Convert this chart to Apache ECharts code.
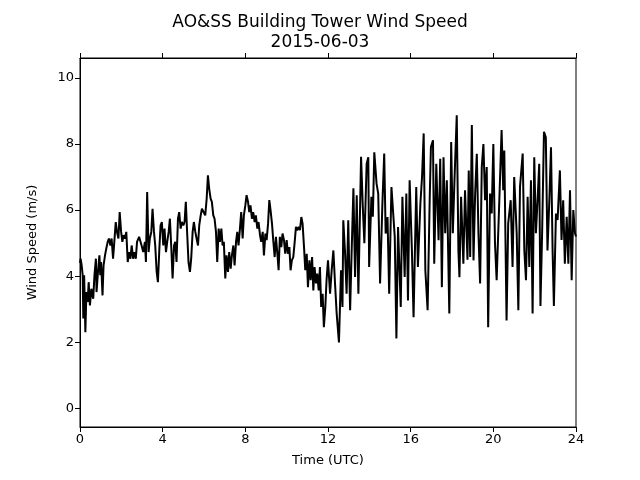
<!DOCTYPE html>
<html><head><meta charset="utf-8">
<script src="https://cdn.jsdelivr.net/npm/echarts@6/dist/echarts.min.js"></script>
<style>html,body{margin:0;padding:0;background:#fff}#c{width:640px;height:480px}</style>
</head><body><div id="c"></div>
<script>
const titleText = "AO&SS Building Tower Wind Speed";
const subText = "2015-06-03";
const xTicks = [0, 4, 8, 12, 16, 20, 24];
const yTicks = [0, 2, 4, 6, 8, 10];
const hours = [
0.0,0.03,0.08,0.13,0.16,0.2,0.26,0.31,0.37,0.42,0.48,0.55,0.64,0.7,0.77,0.8,0.87,0.94,0.98,1.02,1.09,1.14,1.21,1.27,1.34,1.4,1.47,1.53,1.6,1.66,1.73,1.79,1.86,1.92,1.99,2.05,2.11,2.18,2.24,2.31,2.37,2.44,2.5,2.57,2.63,2.7,2.76,2.86,
2.9,2.98,3.06,3.14,3.19,3.25,3.32,3.38,3.45,3.51,3.58,3.64,3.71,3.77,3.84,3.9,3.96,4.03,4.09,4.16,4.22,4.29,4.35,4.42,4.48,4.55,4.61,4.67,4.74,4.8,4.87,4.93,5.0,5.06,5.12,5.19,5.25,5.32,5.38,5.45,5.51,5.58,5.64,5.71,5.77,5.84,5.9,
5.98,6.06,6.13,6.19,6.25,6.32,6.38,6.45,6.51,6.58,6.64,6.71,6.77,6.84,6.9,6.96,7.03,7.09,7.16,7.22,7.29,7.35,7.42,7.48,7.55,7.61,7.67,7.74,7.8,7.87,7.93,8.0,8.06,8.13,8.19,8.25,8.32,8.38,8.45,8.51,8.58,8.64,8.71,8.77,8.84,
8.9,8.97,9.03,9.1,9.16,9.22,9.29,9.35,9.42,9.48,9.55,9.61,9.67,9.74,9.8,9.87,9.93,10.0,10.06,10.13,10.19,10.25,10.32,10.38,10.45,10.51,10.58,10.64,10.71,10.77,10.84,10.9,10.97,11.03,11.1,11.16,11.23,11.29,11.35,11.42,11.48,11.55,11.61,11.67,11.74,11.8,11.87,11.93,12.0,
12.1,12.18,12.26,12.34,12.42,12.53,12.63,12.7,12.74,12.82,12.9,12.98,13.07,13.15,13.23,13.31,13.39,13.47,13.6,13.68,13.76,13.87,13.95,13.99,14.1,14.17,14.24,14.35,14.43,14.52,14.63,14.72,14.79,14.88,14.96,15.07,15.15,15.23,15.31,15.39,15.52,15.6,15.71,15.79,15.87,15.95,
16.06,16.14,16.27,16.35,16.47,16.55,16.63,16.71,16.82,16.92,16.98,17.08,17.14,17.24,17.35,17.43,17.51,17.59,17.67,17.75,17.87,17.96,18.04,18.12,18.23,18.31,18.36,18.44,18.55,18.63,18.75,18.81,18.88,18.96,19.04,19.12,19.2,19.28,19.36,19.44,19.52,19.6,19.68,19.75,19.84,19.92,
20.0,20.08,20.16,20.29,20.4,20.48,20.53,20.64,20.72,20.84,20.93,21.01,21.13,21.21,21.29,21.42,21.5,21.58,21.66,21.74,21.82,21.9,21.98,22.06,22.14,22.22,22.28,22.36,22.45,22.54,22.62,22.71,22.79,22.87,22.93,23.03,23.11,23.22,23.3,23.38,23.46,23.55,23.63,23.71,23.79,23.87,23.95,24.0
];
const speeds = [
4.4,4.53,4.33,4.03,2.72,4.03,2.31,3.52,3.22,3.82,3.12,3.62,3.32,4.03,4.53,3.52,4.13,4.63,4.03,4.43,3.42,4.33,4.63,4.83,5.04,5.14,4.93,5.14,4.53,5.04,5.64,5.34,5.14,5.94,5.34,5.04,5.24,5.14,5.34,4.43,4.73,4.53,4.93,4.53,4.73,4.53,5.04,5.19,
5.14,4.93,4.73,5.04,4.43,6.55,4.73,5.14,5.34,6.04,5.34,4.93,4.13,3.82,4.83,5.54,5.64,4.93,5.44,4.73,5.04,5.34,5.74,4.83,3.93,4.93,5.04,4.43,5.74,5.94,5.44,5.64,5.54,5.64,6.25,5.24,4.43,4.13,4.53,5.34,5.64,5.34,5.14,4.93,5.54,5.84,6.04,
6.04,5.84,6.35,7.05,6.65,6.35,6.25,5.84,5.74,5.34,4.43,5.44,5.04,5.44,4.93,5.04,3.93,4.63,4.13,4.73,4.23,4.63,4.93,4.33,5.04,5.34,4.93,5.44,5.94,5.14,5.84,6.14,6.45,6.25,5.94,6.14,5.74,5.94,5.64,5.84,5.44,5.64,5.24,5.04,5.34,
4.63,5.29,5.09,5.59,6.3,6.0,5.59,5.09,4.58,5.19,4.68,4.18,5.19,4.88,5.29,5.09,4.68,5.09,4.68,4.88,4.18,4.48,4.58,4.98,5.49,5.39,5.49,5.39,5.79,5.59,4.88,4.18,4.68,3.67,4.48,3.88,4.58,3.57,4.28,3.78,4.08,3.57,4.28,3.07,3.47,2.46,3.07,3.88,4.48,
3.47,4.2,4.78,3.78,2.87,2.0,4.18,3.07,5.69,4.78,3.47,5.69,2.97,4.88,6.66,3.98,6.45,3.47,7.61,6.15,5.0,7.4,7.6,4.28,6.4,5.8,7.75,6.8,6.5,3.78,6.15,7.71,5.29,5.79,3.47,6.7,6.75,5.19,2.12,5.49,3.07,6.4,3.98,6.5,3.27,6.9,
4.78,2.76,6.7,4.28,6.2,7.0,8.32,4.18,2.97,6.3,7.91,8.11,4.38,7.4,5.09,7.55,3.67,7.6,5.3,6.9,2.87,8.06,5.3,6.9,8.87,4.78,3.97,6.4,4.38,6.6,4.5,7.2,4.58,8.57,4.48,6.5,7.7,5.3,3.78,7.3,8.0,6.3,7.3,2.46,6.5,5.9,
8.0,5.0,3.88,6.3,8.42,6.6,7.8,2.66,5.6,6.3,4.28,7.0,5.3,2.97,6.7,7.71,4.78,3.88,6.4,4.28,6.9,2.87,7.6,5.3,6.3,7.4,3.1,5.3,8.37,8.2,4.78,6.3,7.9,4.7,3.1,5.9,5.7,7.2,5.1,6.3,4.38,5.8,4.38,6.6,3.88,6.0,5.3,5.2
];
const data = hours.map((h, i) => [h, speeds[i]]);
const font = "DejaVu Sans";
const chart = echarts.init(document.getElementById('c'), null, {renderer: 'canvas'});
chart.setOption({
  animation: false,
  backgroundColor: '#fff',
  title: [
    {text: titleText, left: 'center', top: 9, textStyle: {fontFamily: font, fontSize: 17, fontWeight: 'normal', color: '#000'}},
    {text: subText, left: 'center', top: 29, textStyle: {fontFamily: font, fontSize: 17, fontWeight: 'normal', color: '#000'}}
  ],
  grid: {left: 80, right: 64, top: 58, bottom: 53, show: true, borderColor: '#000', borderWidth: 1, backgroundColor: 'transparent'},
  xAxis: [
    {type: 'value', min: 0, max: 24, interval: 4, position: 'bottom',
     name: 'Time (UTC)', nameLocation: 'middle', nameGap: 27,
     nameTextStyle: {fontFamily: font, fontSize: 13, color: '#000'},
     axisLine: {show: true, onZero: false, lineStyle: {color: '#000'}},
     axisTick: {show: true, length: 5, inside: false, lineStyle: {color: '#000'}},
     axisLabel: {fontFamily: font, fontSize: 13, color: '#000', margin: 6},
     splitLine: {show: false}},
    {type: 'value', min: 0, max: 24, interval: 4, position: 'top',
     axisLine: {show: true, onZero: false, lineStyle: {color: '#000'}},
     axisTick: {show: true, length: 5, inside: false, lineStyle: {color: '#000'}},
     axisLabel: {show: false}, splitLine: {show: false}}
  ],
  yAxis: {type: 'value', min: -0.56, max: 10.6,
    name: 'Wind Speed (m/s)', nameLocation: 'middle', nameGap: 41,
    nameTextStyle: {fontFamily: font, fontSize: 13, color: '#000'},
    axisLine: {show: true, onZero: false, lineStyle: {color: '#000'}},
    axisTick: {show: true, length: 5, customValues: yTicks, lineStyle: {color: '#000'}},
    axisLabel: {fontFamily: font, fontSize: 13, color: '#000', margin: 6, customValues: yTicks},
    splitLine: {show: false}},
  series: [{type: 'line', data: data, xAxisIndex: 0, showSymbol: false, symbol: 'none',
    lineStyle: {color: '#000', width: 2}, itemStyle: {color: '#000'}}]
});
</script></body></html>
